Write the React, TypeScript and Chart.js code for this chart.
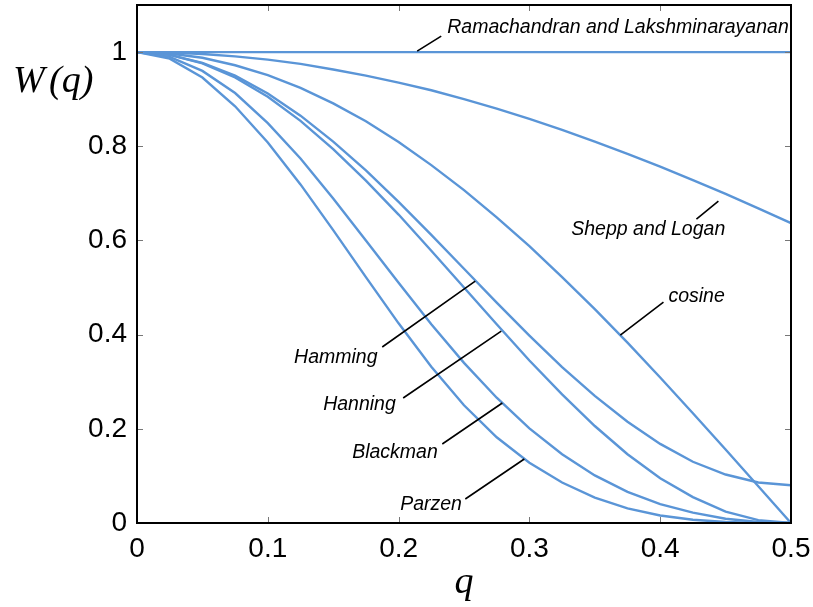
import { useEffect, useRef } from 'react';
import { Chart, registerables } from 'chart.js';

Chart.register(...registerables);

// ---- data ----
const qValues = [0, 0.025, 0.05, 0.075, 0.1, 0.125, 0.15, 0.175, 0.2, 0.225, 0.25, 0.275, 0.3, 0.325, 0.35, 0.375, 0.4, 0.425, 0.45, 0.475, 0.5];
const ramLak = [1, 1, 1, 1, 1, 1, 1, 1, 1, 1, 1, 1, 1, 1, 1, 1, 1, 1, 1, 1, 1];
const sheppLogan = [1, 0.999, 0.996, 0.991, 0.984, 0.975, 0.963, 0.950, 0.935, 0.919, 0.900, 0.880, 0.858, 0.835, 0.810, 0.784, 0.757, 0.728, 0.699, 0.668, 0.637];
const cosine = [1, 0.997, 0.988, 0.972, 0.951, 0.924, 0.891, 0.853, 0.809, 0.760, 0.707, 0.649, 0.588, 0.522, 0.454, 0.383, 0.309, 0.233, 0.156, 0.078, 0];
const hamming = [1, 0.994, 0.977, 0.950, 0.912, 0.865, 0.810, 0.749, 0.682, 0.612, 0.540, 0.468, 0.398, 0.331, 0.270, 0.215, 0.168, 0.130, 0.103, 0.086, 0.080];
const hanning = [1, 0.994, 0.976, 0.946, 0.905, 0.854, 0.794, 0.727, 0.655, 0.578, 0.500, 0.422, 0.345, 0.273, 0.206, 0.146, 0.095, 0.055, 0.024, 0.006, 0];
const blackman = [1, 0.990, 0.960, 0.913, 0.849, 0.774, 0.689, 0.600, 0.510, 0.422, 0.340, 0.266, 0.201, 0.146, 0.101, 0.066, 0.040, 0.022, 0.009, 0.002, 0];
const parzen = [1, 0.986, 0.946, 0.885, 0.808, 0.719, 0.622, 0.522, 0.424, 0.332, 0.250, 0.182, 0.128, 0.086, 0.054, 0.031, 0.016, 0.007, 0.002, 0.0003, 0];

const seriesList = [ramLak, sheppLogan, cosine, hamming, hanning, blackman, parzen];

const xTickValues = [0, 0.1, 0.2, 0.3, 0.4, 0.5];
const xTickLabels = ['0', '0.1', '0.2', '0.3', '0.4', '0.5'];
const yTickValues = [0, 0.2, 0.4, 0.6, 0.8, 1];
const yTickLabels = ['0', '0.2', '0.4', '0.6', '0.8', '1'];

// annotation labels (data coordinates: left edge / vertical middle of text)
const labelNames = ['Ramachandran and Lakshminarayanan', 'Shepp and Logan', 'cosine', 'Hamming', 'Hanning', 'Blackman', 'Parzen'];
const labelQ = [0.2372, 0.332, 0.4063, 0.1201, 0.1423, 0.1645, 0.2012];
const labelW = [1.051, 0.624, 0.480, 0.352, 0.2505, 0.1486, 0.0382];
// leader lines (from label end -> towards curve)
const leaderQ1 = [0.2142, 0.4277, 0.3695, 0.1875, 0.2035, 0.2334, 0.2510];
const leaderW1 = [1.002, 0.6454, 0.399, 0.3737, 0.2654, 0.1677, 0.0510];
const leaderQ2 = [0.2326, 0.4445, 0.4025, 0.2586, 0.2785, 0.2793, 0.2961];
const leaderW2 = [1.034, 0.6837, 0.469, 0.5138, 0.4076, 0.2548, 0.1359];

const LINE_COLOR = '#5a95d7';
const SANS = '"Liberation Sans", Arial, Helvetica, sans-serif';
const SERIF = '"Liberation Serif", "Times New Roman", serif';

const decorPlugin = {
  id: 'decor',
  afterDraw(chart: any) {
    const { ctx, chartArea } = chart;
    const { left, right, top, bottom } = chartArea;
    const xs = chart.scales.x;
    const ys = chart.scales.y;
    ctx.save();

    // inward tick marks on all four sides
    ctx.strokeStyle = '#777';
    ctx.lineWidth = 1;
    ctx.beginPath();
    xTickValues.forEach((v) => {
      const px = Math.round(xs.getPixelForValue(v)) + 0.5;
      ctx.moveTo(px, bottom);
      ctx.lineTo(px, bottom - 6);
      ctx.moveTo(px, top);
      ctx.lineTo(px, top + 6);
    });
    yTickValues.forEach((v) => {
      const py = Math.round(ys.getPixelForValue(v)) + 0.5;
      ctx.moveTo(left, py);
      ctx.lineTo(left + 6, py);
      ctx.moveTo(right, py);
      ctx.lineTo(right - 6, py);
    });
    ctx.stroke();

    // frame
    ctx.strokeStyle = '#000';
    ctx.lineWidth = 2;
    ctx.strokeRect(left, top, right - left, bottom - top);

    // leader lines
    ctx.lineWidth = 1.6;
    ctx.beginPath();
    labelNames.forEach((_, i) => {
      ctx.moveTo(xs.getPixelForValue(leaderQ1[i]), ys.getPixelForValue(leaderW1[i]));
      ctx.lineTo(xs.getPixelForValue(leaderQ2[i]), ys.getPixelForValue(leaderW2[i]));
    });
    ctx.stroke();

    // labels
    ctx.fillStyle = '#000';
    ctx.font = `italic 19.5px ${SANS}`;
    ctx.textAlign = 'left';
    ctx.textBaseline = 'middle';
    labelNames.forEach((name, i) => {
      ctx.fillText(name, xs.getPixelForValue(labelQ[i]), ys.getPixelForValue(labelW[i]));
    });

    // axis titles
    ctx.font = `italic 38px ${SERIF}`;
    ctx.textBaseline = 'alphabetic';
    ctx.textAlign = 'left';
    ctx.fillText('W', left - 124, ys.getPixelForValue(1) + 40);
    ctx.fillText('(q)', left - 88, ys.getPixelForValue(1) + 40);
    ctx.textAlign = 'center';
    ctx.fillText('q', (left + right) / 2, bottom + 70);

    ctx.restore();
  },
};

export default function App() {
  const canvasRef = useRef<HTMLCanvasElement | null>(null);

  useEffect(() => {
    const canvas = canvasRef.current;
    if (!canvas) return;
    const chart = new Chart(canvas, {
      type: 'line',
      data: {
        labels: qValues,
        datasets: seriesList.map((s) => ({
          data: qValues.map((q, i) => ({ x: q, y: s[i] })),
          borderColor: LINE_COLOR,
          borderWidth: 2.4,
          pointRadius: 0,
          tension: 0,
          fill: false,
        })),
      },
      options: {
        animation: false,
        responsive: false,
        devicePixelRatio: 1,
        layout: { padding: { left: 0, right: 22, top: 5, bottom: 0 } },
        plugins: { legend: { display: false }, tooltip: { enabled: false }, title: { display: false } },
        scales: {
          x: {
            type: 'linear',
            min: 0,
            max: 0.5,
            afterBuildTicks: (scale: any) => {
              scale.ticks = xTickValues.map((v) => ({ value: v }));
            },
            afterFit: (scale: any) => {
              scale.height = 84;
              scale.paddingLeft = 0;
              scale.paddingRight = 0;
            },
            grid: { display: false, drawTicks: false },
            border: { display: false },
            ticks: {
              color: '#000',
              padding: 9,
              maxRotation: 0,
              font: { family: SANS, size: 28 },
              callback: (v: any) => {
                const idx = xTickValues.findIndex((t) => Math.abs(t - v) < 1e-9);
                return idx >= 0 ? xTickLabels[idx] : '';
              },
            },
          },
          y: {
            type: 'linear',
            min: 0,
            max: 1.1,
            afterBuildTicks: (scale: any) => {
              scale.ticks = yTickValues.map((v) => ({ value: v }));
            },
            afterFit: (scale: any) => {
              scale.width = 137;
              scale.paddingTop = 0;
              scale.paddingBottom = 0;
            },
            grid: { display: false, drawTicks: false },
            border: { display: false },
            ticks: {
              color: '#000',
              padding: 10,
              font: { family: SANS, size: 28 },
              callback: (v: any) => {
                const idx = yTickValues.findIndex((t) => Math.abs(t - v) < 1e-9);
                return idx >= 0 ? yTickLabels[idx] : '';
              },
            },
          },
        },
      },
      plugins: [decorPlugin],
    });
    return () => chart.destroy();
  }, []);

  return (
    <div style={{ position: 'absolute', left: 0, top: 0, width: 813, height: 607, background: '#fff' }}>
      <canvas ref={canvasRef} width={813} height={607} />
    </div>
  );
}
